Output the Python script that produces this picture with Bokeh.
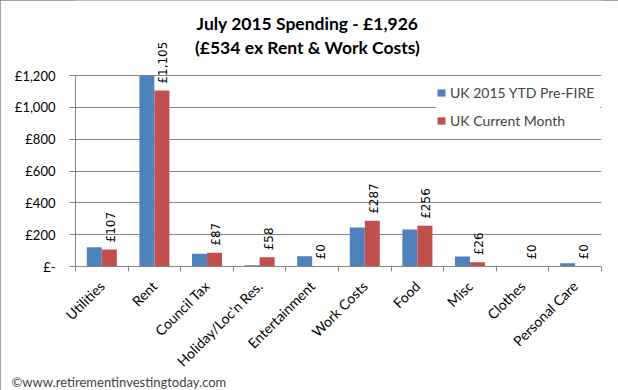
from math import pi
from bokeh.plotting import figure
from bokeh.models import (ColumnDataSource, Range1d, FixedTicker, LabelSet, Label, Title,
                          Legend, LegendItem)
from bokeh.core.properties import value
from bokeh.transform import dodge
from bokeh.embed import file_html
from bokeh.resources import INLINE

categories = ["Utilities", "Rent", "Council Tax", "Holiday/Loc'n Res.", "Entertainment",
              "Work Costs", "Food", "Misc", "Clothes", "Personal Care"]
ytd_prefire = [121, 1200, 80, 8, 65, 245, 233, 63, 0, 20]
current_month = [107, 1105, 87, 58, 0, 287, 256, 26, 0, 0]
current_labels = ["£107", "£1,105", "£87", "£58", "£0", "£287", "£256", "£26", "£0", "£0"]
y_ticks = [0, 200, 400, 600, 800, 1000, 1200]
y_tick_labels = ["£-", "£200", "£400", "£600", "£800", "£1,000", "£1,200"]
series_names = ["UK 2015 YTD Pre-FIRE", "UK Current Month"]
title_line1 = "July 2015 Spending - £1,926"
title_line2 = "(£534 ex Rent & Work Costs)"
footer = "©www.retirementinvestingtoday.com"

BLUE = "#4F81BD"
RED = "#C0504D"
GRID = "#868686"
FONT = "Lato"

# frame geometry (px)
FRAME_W = 526
FRAME_H = 266
PX_PER_UNIT = 191.0 / 1200.0
Y_MAX = FRAME_H / PX_PER_UNIT
CAT_PX = FRAME_W / len(categories)

xs = list(range(1, len(categories) + 1))
src = ColumnDataSource(dict(x=xs, cat=categories, ytd=ytd_prefire, cur=current_month,
                            lab=current_labels))

p = figure(frame_width=FRAME_W, frame_height=FRAME_H,
           x_range=Range1d(0.5, len(categories) + 0.5), y_range=Range1d(0, Y_MAX),
           output_backend="svg", toolbar_location=None,
           min_border_left=75, min_border_right=17, min_border_top=0, min_border_bottom=124,
           background_fill_color="white", border_fill_color="white")
p.outline_line_color = None
p.styles = {"outline": "1px solid #868686", "outline-offset": "-1px"}

r1 = p.vbar(x=dodge("x", -0.143, range=p.x_range), top="ytd", width=0.285, source=src,
            fill_color=BLUE, line_color=None)
r2 = p.vbar(x=dodge("x", 0.143, range=p.x_range), top="cur", width=0.285, source=src,
            fill_color=RED, line_color=None)

labels = LabelSet(x=dodge("x", 0.17, range=p.x_range), y="cur", text="lab", source=src,
                  angle=pi / 2, text_align="left", text_baseline="middle", y_offset=7,
                  text_font=value("DejaVu Sans"), text_font_size=value("12px"),
                  text_color="black")
p.add_layout(labels)

# axes
p.xgrid.grid_line_color = None
p.ygrid.grid_line_color = GRID
p.ygrid.grid_line_width = 1
p.ygrid.ticker = FixedTicker(ticks=y_ticks)
p.ygrid.bounds = (y_ticks[0], y_ticks[-1])

p.yaxis.ticker = FixedTicker(ticks=y_ticks)
p.yaxis.bounds = (y_ticks[0], y_ticks[-1])
p.yaxis.major_label_overrides = {t: l for t, l in zip(y_ticks, y_tick_labels)}
p.yaxis.axis_line_color = GRID
p.yaxis.major_tick_line_color = GRID
p.yaxis.major_tick_out = 6
p.yaxis.major_tick_in = 0
p.yaxis.minor_tick_line_color = None
p.yaxis.major_label_standoff = 14
p.yaxis.major_label_text_font = FONT
p.yaxis.major_label_text_font_size = "13px"
p.yaxis.major_label_text_color = "black"

bounds = [x - 0.5 for x in xs] + [xs[-1] + 0.5]
p.xaxis.ticker = FixedTicker(ticks=xs, minor_ticks=bounds)
p.xaxis.major_label_overrides = {x: c for x, c in zip(xs, categories)}
p.xaxis.major_label_orientation = pi / 4
p.xaxis.axis_line_color = GRID
p.xaxis.major_tick_line_color = None
p.xaxis.minor_tick_line_color = GRID
p.xaxis.minor_tick_out = 5
p.xaxis.minor_tick_in = 0
p.xaxis.major_label_standoff = 11
p.xaxis.major_label_text_font = FONT
p.xaxis.major_label_text_font_size = "14px"
p.xaxis.major_label_text_color = "black"

legend = Legend(items=[LegendItem(label=series_names[0], renderers=[r1]),
                       LegendItem(label=series_names[1], renderers=[r2])],
                location=(361, 136), orientation="vertical",
                glyph_width=10, glyph_height=9, label_standoff=4,
                label_height=20, spacing=8, padding=5, margin=0, label_width=150,
                label_text_font=FONT, label_text_font_size="14px",
                border_line_color=None, background_fill_color="white",
                background_fill_alpha=1)
p.add_layout(legend)

# titles placed inside the (tall) frame, positioned from pixel offsets
title_x = 0.5 + (307 - 75) / CAT_PX
for txt, py in ((title_line1, 23), (title_line2, 46.5)):
    p.add_layout(Label(x=title_x, y=(FRAME_H - py) / PX_PER_UNIT, text=txt,
                       text_align="center", text_baseline="middle",
                       text_font=FONT, text_font_style="bold", text_font_size="17.5px",
                       text_color="black"))

p.add_layout(Title(text=footer, align="left", offset=-64, text_font=FONT,
                   text_font_style="normal", text_font_size="13px", standoff=-13), "below")

open("out.html", "w").write(file_html(p, INLINE))
